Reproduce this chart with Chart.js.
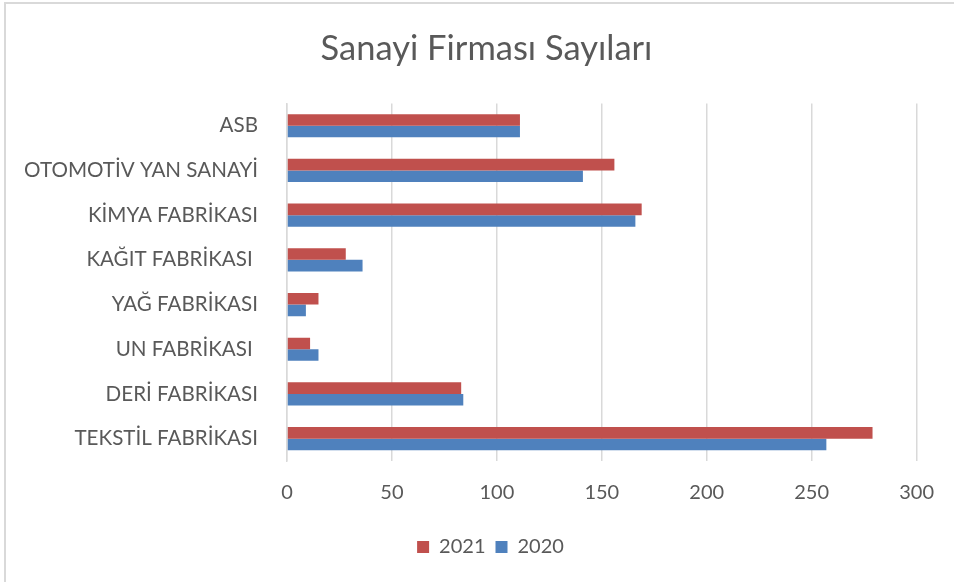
<!DOCTYPE html>
<html>
<head>
<meta charset="utf-8">
<script src="https://cdn.jsdelivr.net/npm/chart.js@4/dist/chart.umd.min.js"></script>
<style>
  html, body { margin: 0; padding: 0; background: #ffffff; }
  #wrap { width: 954px; height: 582px; position: relative; }
</style>
</head>
<body>
<div id="wrap"><canvas id="c" width="954" height="582"></canvas></div>
<script>
const categories = ["ASB", "OTOMOTİV YAN SANAYİ", "KİMYA FABRİKASI", "KAĞIT FABRİKASI ", "YAĞ FABRİKASI", "UN FABRİKASI ", "DERİ FABRİKASI", "TEKSTİL FABRİKASI"];
const values2021 = [111, 156, 169, 28, 15, 11, 83, 279];
const values2020 = [111, 141, 166, 36, 9, 15, 84, 257];
const xTicks = [0, 50, 100, 150, 200, 250, 300];
const chartTitle = "Sanayi Firması Sayıları";

const FONT = "Lato";
const TEXT = "#595959";

const framePlugin = {
  id: 'frame',
  afterLayout(chart) {
    // shift title and legend horizontally to match the reference centring
    const t = chart.titleBlock;
    if (t) { t.left += 27; t.right += 27; }
    const l = chart.legend;
    if (l) {
      l.left += 31; l.right += 31;
      if (l.legendHitBoxes) l.legendHitBoxes.forEach(h => { h.left += 31; });
    }
  },
  beforeDraw(chart) {
    const ctx = chart.ctx;
    ctx.save();
    ctx.fillStyle = '#ffffff';
    ctx.fillRect(0, 0, chart.width, chart.height);
    ctx.strokeStyle = '#d9d9d9';
    ctx.lineWidth = 2;
    ctx.beginPath();
    ctx.moveTo(5, 582);
    ctx.lineTo(5, 3);
    ctx.lineTo(954, 3);
    ctx.stroke();
    ctx.restore();
  }
};

new Chart(document.getElementById('c'), {
  type: 'bar',
  data: {
    labels: categories,
    datasets: [
      { label: '2021', data: values2021, backgroundColor: '#C0504D', borderWidth: 0 },
      { label: '2020', data: values2020, backgroundColor: '#4F81BD', borderWidth: 0 }
    ]
  },
  options: {
    indexAxis: 'y',
    responsive: false,
    animation: false,
    devicePixelRatio: 1,
    categoryPercentage: 0.52,
    barPercentage: 1.0,
    layout: { padding: { left: 0, right: 35, top: 0, bottom: 15 } },
    plugins: {
      title: {
        display: true,
        text: chartTitle,
        color: TEXT,
        font: { family: FONT, size: 34.5, weight: 'normal' },
        padding: { top: 28, bottom: 34 }
      },
      legend: {
        position: 'bottom',
        labels: {
          color: TEXT,
          font: { family: FONT, size: 20 },
          boxWidth: 12,
          boxHeight: 12,
          padding: 10
        }
      },
      tooltip: { enabled: false }
    },
    scales: {
      x: {
        min: 0,
        max: 300,
        afterBuildTicks(scale) { scale.ticks = xTicks.map(v => ({ value: v })); },
        afterFit(scale) { scale.height = 66; },
        grid: { color: '#d9d9d9', lineWidth: 1.5, drawTicks: false },
        border: { display: false },
        ticks: { color: TEXT, font: { family: FONT, size: 20 }, padding: 20 }
      },
      y: {
        afterFit(scale) { scale.width = 287; },
        grid: { display: false, drawTicks: false },
        border: { display: true, color: '#d9d9d9', width: 1.5 },
        ticks: { color: TEXT, font: { family: FONT, size: 20.6 }, padding: 29 }
      }
    }
  },
  plugins: [framePlugin]
});
</script>
</body>
</html>
